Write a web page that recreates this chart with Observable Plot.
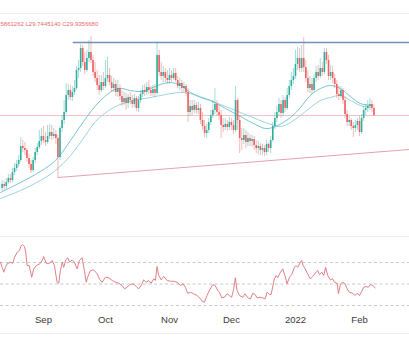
<!DOCTYPE html>
<html><head><meta charset="utf-8">
<script src="https://cdn.jsdelivr.net/npm/d3@7"></script>
<script src="https://cdn.jsdelivr.net/npm/@observablehq/plot@0.6"></script>
<style>
html,body{margin:0;padding:0;background:#fff;}
#chart{position:relative;width:409px;height:351px;overflow:hidden;background:#fff;}
#chart svg{display:block;}
</style></head><body><div id="chart"></div>
<script>
// ---- data ----
const firstDay = -20; // days relative to 2021-09-01, one candle per day
const opens = [15.4,16.2,15.8,16.6,17.4,17.0,18.6,19.4,20.2,21.0,
23.8,23.4,23.0,21.4,20.2,19.0,21.0,22.6,23.6,24.8,
25.8,25.0,24.6,25.8,26.6,25.8,26.2,25.4,21.6,27.4,
29.0,30.6,34.0,35.0,33.6,34.6,35.4,39.0,39.4,43.4,
40.6,39.0,41.4,42.6,41.0,38.6,37.4,36.0,35.0,36.6,
35.8,37.4,38.0,36.6,35.4,36.2,34.6,35.4,33.8,32.6,
33.4,32.4,33.6,33.0,32.2,33.4,31.4,33.0,34.2,35.0,
34.6,35.6,35.0,34.4,35.2,34.4,42.0,38.6,37.8,38.6,
37.4,37.0,38.0,37.4,38.4,37.0,35.8,36.4,35.4,35.8,
34.6,30.6,31.8,31.0,32.0,31.0,31.4,29.0,27.8,26.4,
27.0,28.6,30.0,31.0,32.2,30.6,30.0,28.0,27.6,28.2,
27.6,28.6,28.0,27.0,33.0,29.0,25.4,25.0,26.0,24.6,
25.4,24.8,25.2,24.0,23.4,23.8,23.0,23.4,22.6,24.2,
23.4,25.0,27.8,29.4,30.6,32.2,30.4,33.0,31.4,34.0,
35.8,37.0,37.8,40.2,41.4,39.4,41.4,39.6,37.4,35.4,
36.2,35.0,37.4,38.6,37.8,39.4,38.6,42.6,41.0,37.8,
38.6,37.4,36.2,34.2,33.8,35.0,33.0,30.2,28.6,29.0,
27.8,27.4,28.0,28.8,26.6,29.4,31.0,31.4,31.8,32.2,31.4];
const closes = [16.2,15.8,16.6,17.4,17.0,18.6,19.4,20.2,21.0,23.8,
23.4,23.0,21.4,20.2,19.0,21.0,22.6,23.6,24.8,25.8,
25.0,24.6,25.8,26.6,25.8,26.2,25.4,21.6,27.4,29.0,
30.6,34.0,35.0,33.6,34.6,35.4,39.0,39.4,43.4,40.6,
39.0,41.4,42.6,41.0,38.6,37.4,36.0,35.0,36.6,35.8,
37.4,38.0,36.6,35.4,36.2,34.6,35.4,33.8,32.6,33.4,
32.4,33.6,33.0,32.2,33.4,31.4,33.0,34.2,35.0,34.6,
35.6,35.0,34.4,35.2,34.4,42.0,38.6,37.8,38.6,37.4,
37.0,38.0,37.4,38.4,37.0,35.8,36.4,35.4,35.8,34.6,
30.6,31.8,31.0,32.0,31.0,31.4,29.0,27.8,26.4,27.0,
28.6,30.0,31.0,32.2,30.6,30.0,28.0,27.6,28.2,27.6,
28.6,28.0,27.0,33.0,29.0,25.4,25.0,26.0,24.6,25.4,
24.8,25.2,24.0,23.4,23.8,23.0,23.4,22.6,24.2,23.4,
25.0,27.8,29.4,30.6,32.2,30.4,33.0,31.4,34.0,35.8,
37.0,37.8,40.2,41.4,39.4,41.4,39.6,37.4,35.4,36.2,
35.0,37.4,38.6,37.8,39.4,38.6,42.6,41.0,37.8,38.6,
37.4,36.2,34.2,33.8,35.0,33.0,30.2,28.6,29.0,27.8,
27.4,28.0,28.8,26.6,29.4,31.0,31.4,31.8,32.2,31.4,30.0];
const highs = [17.0,16.8,17.4,18.2,18.2,19.4,20.4,21.0,22.0,25.6,
25.0,24.6,23.4,22.2,21.0,21.6,23.4,24.4,27.0,27.4,
27.8,26.6,28.0,28.2,28.0,27.4,27.0,26.0,27.8,30.0,
33.0,36.4,36.2,36.0,35.8,37.0,39.8,41.0,44.2,44.0,
42.6,43.0,45.0,45.8,42.0,40.6,39.0,38.0,38.0,38.6,
41.0,41.6,39.4,37.8,37.4,37.0,37.0,36.2,35.0,34.6,
34.4,34.2,34.6,34.0,34.2,33.8,33.8,35.0,36.0,36.2,
36.6,37.0,35.8,36.0,36.2,44.6,43.0,40.6,39.8,39.4,
39.0,39.4,39.0,39.4,39.4,37.8,37.4,37.0,36.6,36.2,
35.4,33.0,33.0,33.0,32.6,32.6,32.2,30.6,29.0,28.2,
29.4,31.0,33.0,35.4,33.0,32.0,31.0,29.4,29.4,29.0,
29.6,29.4,29.0,35.8,33.4,30.0,27.4,27.4,27.0,26.6,
26.2,26.0,25.8,25.0,24.8,24.4,24.2,24.0,25.0,24.6,
25.8,28.6,30.6,31.8,33.4,33.0,34.0,33.6,35.4,37.0,
38.6,39.4,43.0,43.6,43.4,44.0,45.6,41.0,39.0,37.8,
37.4,38.2,39.8,40.0,41.4,40.6,43.4,43.4,42.0,40.0,
39.8,38.2,37.0,35.8,35.8,35.4,33.8,31.0,29.8,29.4,
28.6,29.0,29.4,29.8,30.2,31.8,32.2,33.0,33.4,33.0,32.2];
const lows = [14.8,15.0,15.2,16.2,16.4,16.6,18.0,18.8,19.6,20.6,
22.6,22.0,20.6,19.4,18.4,18.6,20.4,22.0,23.2,24.0,
24.4,23.8,24.2,25.2,25.0,25.2,24.2,17.6,21.0,26.6,
28.2,30.2,33.0,33.0,32.8,34.0,35.0,37.4,38.6,39.8,
38.2,38.6,40.6,40.4,37.8,36.6,35.0,34.0,34.6,35.0,
35.4,36.6,36.0,34.6,34.6,33.8,33.6,33.0,31.8,32.0,
31.0,31.4,32.2,31.4,31.6,30.8,30.6,32.4,33.6,33.8,
34.0,34.2,33.8,33.8,33.6,34.0,37.8,37.0,36.6,36.6,
36.2,36.2,36.6,37.0,36.6,35.4,35.0,34.6,34.6,33.8,
28.6,29.8,30.0,30.4,30.2,30.2,28.2,27.0,25.6,25.4,
26.4,28.0,29.4,30.2,29.8,29.0,25.4,26.6,27.0,26.8,
27.0,27.0,26.2,26.6,27.0,22.4,23.0,24.2,23.4,23.8,
23.8,23.6,23.0,22.4,22.2,22.0,22.0,21.8,22.0,22.6,
22.4,24.6,27.2,28.6,29.8,29.4,29.8,30.6,31.0,33.4,
35.0,36.2,37.2,39.0,38.6,38.6,38.6,36.6,34.6,34.4,
34.2,34.6,36.6,37.0,37.4,37.8,38.2,40.2,37.0,37.0,
36.4,35.4,33.4,33.0,33.4,32.2,29.4,27.8,27.8,27.0,
25.6,26.6,27.0,25.8,26.2,28.8,30.0,30.6,31.0,30.6,29.8];

const maFastDays = [-20.8,-11.1,-1.5,5.8,13.1,19.4,27.6,35.8,42.1,47.0,51.8,56.6,61.5,66.3,71.2,76.0,80.8,88.1,95.4,102.6,107.5,112.3,119.6,124.4,129.2,134.1,138.9,143.7,148.6,153.4,159.2];
const maFastValues = [14.6,16.6,18.8,21.0,25.0,28.8,33.0,35.4,35.0,34.8,35.4,36.2,36.6,36.0,34.6,33.6,33.0,31.4,29.8,28.2,27.4,27.8,29.6,31.6,34.0,35.4,36.0,35.4,33.8,32.4,32.0];
const maSlowDays = [-20.8,-11.1,-1.5,5.8,13.1,20.3,25.2,33.9,43.6,51.8,59.1,66.3,71.2,80.8,90.5,100.2,107.5,114.7,119.6,124.4,129.2,134.1,138.9,143.7,148.6,153.4,159.2];
const maSlowValues = [13.4,15.0,17.0,19.0,22.0,26.0,28.8,31.6,33.0,33.6,34.2,34.6,34.4,33.0,31.4,29.8,28.6,27.8,28.6,30.0,31.6,33.0,33.6,34.0,33.0,32.0,31.6];

const resistanceLevel = 44.6;
const resistanceStartDay = 14.5;
const lastPrice = 30.0;
const trendDays = [7, 177.2];
const trendValues = [17.6, 23.2];

const rsiDays = [-20.8,-20.0,-19.2,-18.4,-17.6,-16.0,-14.9,-14.0,-12.7,-11.6,
-10.8,-10.2,-9.2,-8.6,-7.9,-6.9,-5.7,-4.7,-3.4,-1.8,
-0.6,0.1,1.3,3.0,4.2,5.3,6.6,7.4,8.2,9.1,
9.8,10.8,11.8,12.7,13.9,15.0,16.3,17.4,18.7,19.8,
20.7,21.4,22.7,24.3,26.0,27.3,28.4,30.0,31.6,33.3,
34.8,36.4,38.1,39.2,40.5,41.8,43.4,45.0,46.1,47.3,
48.5,49.7,51.0,52.1,53.4,54.2,55.0,55.8,57.0,58.2,
59.9,61.5,63.1,64.7,66.3,67.6,68.7,69.8,71.2,72.7,
74.4,76.0,76.8,77.9,79.2,80.3,81.9,83.1,84.4,85.2,
86.3,87.6,88.9,90.0,91.1,92.1,92.9,93.7,94.9,96.5,
97.6,98.9,100.2,101.3,102.5,103.4,104.5,106.1,107.3,108.3,
109.4,110.2,111.8,112.6,113.4,114.4,115.8,116.9,117.9,119.1,
120.2,121.5,122.3,123.1,124.1,125.0,125.7,126.7,127.9,129.2,
130.3,131.5,132.8,133.6,134.7,135.7,136.6,137.6,138.9,140.0,
140.9,142.2,142.8,143.8,144.9,146.0,147.0,148.1,149.7,150.9,
151.8,153.0,154.1,155.0,156.2,157.3,158.3,159.4,160.6];
const rsiValues = [70.3,65.6,61.0,65.6,68.8,70.3,69.3,74.9,79.6,81.2,
85.8,86.7,84.9,79.6,67.2,67.2,56.3,64.1,67.2,68.8,
71.9,75.6,69.3,69.3,71.9,67.2,51.7,50.7,62.6,70.3,
65.6,72.5,74.4,70.3,72.5,70.3,64.1,71.9,74.4,62.6,
51.7,56.3,62.6,63.2,59.5,53.9,51.7,56.3,55.8,53.3,
51.7,50.7,48.6,45.5,47.0,49.5,50.2,47.7,45.5,48.6,
53.9,51.7,53.3,50.7,54.8,53.3,66.3,57.9,53.9,57.0,
53.3,52.6,52.6,51.7,48.6,50.2,47.0,41.4,42.4,40.9,
39.3,36.2,34.0,33.1,39.3,44.0,49.3,48.6,44.0,42.4,
37.2,37.7,40.9,39.3,37.7,45.5,55.8,44.0,39.3,37.7,
40.9,37.2,36.2,41.4,40.2,37.2,37.7,37.2,36.2,42.4,
40.2,40.2,54.8,57.9,55.8,60.0,64.1,57.9,50.2,56.3,
58.8,65.6,67.2,65.6,69.3,71.9,67.2,64.1,59.5,54.8,
57.0,60.0,62.6,58.8,61.0,57.9,65.6,57.9,53.9,54.8,
51.7,50.7,40.9,50.2,51.7,50.2,45.5,42.4,41.4,39.3,
41.4,39.3,43.3,47.0,47.7,47.0,49.5,48.6,46.5];
const rsiLevels = [70, 50, 30];

const tickDays = [0, 30, 61, 91, 122, 153];
const tickLabels = ["Sep", "Oct", "Nov", "Dec", "2022", "Feb"];
const headerText = "5861262 L29.7445140 C29.9356680";

// ---- build ----
const base = Date.UTC(2021, 8, 1);
const toDate = d => new Date(base + d * 86400000);
const xDomain = [toDate(-20.8), toDate(177.2)];
const UP = "#2fae9f", DOWN = "#ef5f60";

const candles = opens.map((o, i) => ({
  date: toDate(firstDay + i), open: o, close: closes[i], high: highs[i], low: lows[i],
  color: closes[i] >= o ? UP : DOWN
}));
const maFast = maFastDays.map((d, i) => ({date: toDate(d), v: maFastValues[i]}));
const maSlow = maSlowDays.map((d, i) => ({date: toDate(d), v: maSlowValues[i]}));
const trend = trendDays.map((d, i) => ({date: toDate(d), v: trendValues[i]}));
const resist = [{date: toDate(resistanceStartDay), v: resistanceLevel}, {date: toDate(178), v: resistanceLevel}];
const rsi = rsiDays.map((d, i) => ({date: toDate(d), v: rsiValues[i]}));
const ticks = tickDays.map((d, i) => ({date: toDate(d), label: tickLabels[i], bold: tickLabels[i] === "2022"}));

const priceTop = 50.4, priceBottom = 5.8;

const price = Plot.plot({
  width: 409, height: 236,
  marginLeft: 0, marginRight: 0, marginTop: 13, marginBottom: 0,
  style: {background: "#fff", overflow: "hidden"},
  x: {type: "utc", domain: xDomain, axis: null},
  y: {domain: [priceBottom, priceTop], axis: null},
  marks: [
    Plot.ruleY([priceTop], {stroke: "#ececec", strokeWidth: 1}),
    Plot.ruleY([lastPrice], {stroke: "#f3c4c6", strokeWidth: 1}),
    Plot.line(trend, {x: "date", y: "v", stroke: "#e3a3ab", strokeWidth: 1.1}),
    Plot.line(resist, {x: "date", y: "v", stroke: "#6f8fbf", strokeWidth: 1.6}),
    Plot.line(maSlow, {x: "date", y: "v", stroke: "#9ad3df", strokeWidth: 1, curve: "catmull-rom"}),
    Plot.line(maFast, {x: "date", y: "v", stroke: "#78c4d3", strokeWidth: 1, curve: "catmull-rom"}),
    Plot.ruleX(candles, {x: "date", y1: "low", y2: "high", stroke: "color", strokeWidth: 0.8, strokeOpacity: 0.55}),
    Plot.ruleX(candles, {x: "date", y1: "open", y2: "close", stroke: "color", strokeWidth: 1.6}),
    Plot.text([headerText], {text: d => d, frameAnchor: "top-left", dy: 8, textAnchor: "start", fontSize: 6, fill: "#ec6a6a", fontFamily: "Liberation Sans, Arial, sans-serif"})
  ]
});

const rsiTop = 94.2, rsiBottom = 22.6;
const rsiPlot = Plot.plot({
  width: 409, height: 115,
  marginLeft: 0, marginRight: 0, marginTop: 0, marginBottom: 38,
  style: {background: "#fff", overflow: "visible"},
  x: {type: "utc", domain: xDomain, axis: null},
  y: {domain: [rsiBottom, rsiTop], axis: null},
  marks: [
    Plot.ruleY([rsiTop], {stroke: "#ececec", strokeWidth: 1}),
    Plot.ruleY([4.0], {stroke: "#ececec", strokeWidth: 1}),
    Plot.ruleY(rsiLevels, {stroke: "#c4c4c4", strokeWidth: 0.9, strokeDasharray: "3,2.5"}),
    Plot.line(rsi, {x: "date", y: "v", stroke: "#e08088", strokeWidth: 1}),
    Plot.text(ticks, {x: "date", text: "label", frameAnchor: "bottom", dy: 9, fontSize: 9.5,
      fontWeight: d => d.bold ? "bold" : "normal", fill: "#3a3a3a", fontFamily: "Liberation Sans, Arial, sans-serif"})
  ]
});

const root = document.getElementById("chart");
root.appendChild(price);
root.appendChild(rsiPlot);
</script></body></html>
